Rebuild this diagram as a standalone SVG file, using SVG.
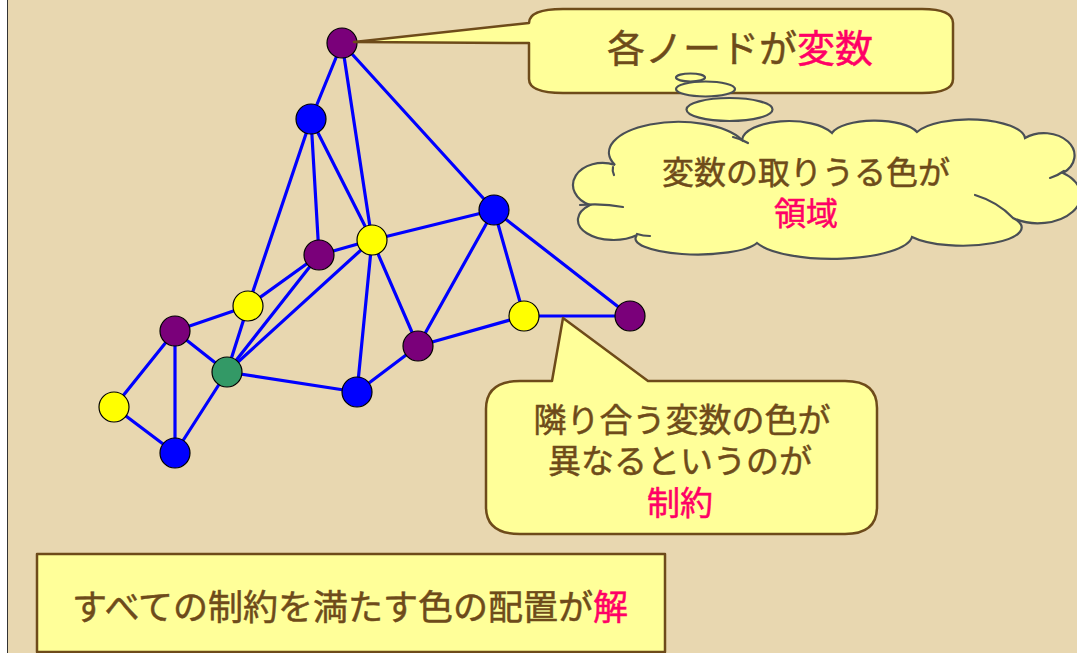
<svg xmlns="http://www.w3.org/2000/svg" width="1077" height="653" viewBox="0 0 1077 653">
<defs>
<style>
.edge{stroke:#0000FF;stroke-width:3.2;stroke-linecap:round}
.node{stroke:#000;stroke-width:1.2}
.purple{fill:#7A007A}
.blue{fill:#0000FF}
.yellow{fill:#FFFF00}
.green{fill:#339966}
.box{fill:#FFFF99;stroke:#6E4B1A;stroke-width:2.5;stroke-linejoin:round}
.thought{fill:#FFFF99;stroke:#4A4F55;stroke-width:2.2}
.crease{fill:none;stroke:#4A4F55;stroke-width:2.2;stroke-linecap:round}
.t{font-family:"Liberation Sans","Noto Sans CJK JP",sans-serif;fill:#6E4B1A;stroke:#6E4B1A;stroke-width:0.5;text-anchor:middle}
.hl{fill:#FF0066;stroke:#FF0066}
</style>
</defs>
<rect x="0" y="0" width="1077" height="653" fill="#FFFFFF"/>
<rect x="7" y="0" width="1070" height="653" fill="#E8D7B0"/>
<line x1="7.5" y1="0" x2="7.5" y2="653" stroke="#333333" stroke-width="1"/>

<g id="connectors">
<line class="edge" x1="342" y1="43" x2="311" y2="119"/>
<line class="edge" x1="342" y1="43" x2="372" y2="240"/>
<line class="edge" x1="342" y1="43" x2="494" y2="210"/>
<line class="edge" x1="311" y1="119" x2="248" y2="306"/>
<line class="edge" x1="311" y1="119" x2="319" y2="255"/>
<line class="edge" x1="311" y1="119" x2="372" y2="240"/>
<line class="edge" x1="319" y1="255" x2="372" y2="240"/>
<line class="edge" x1="319" y1="255" x2="248" y2="306"/>
<line class="edge" x1="319" y1="255" x2="227" y2="372"/>
<line class="edge" x1="372" y1="240" x2="227" y2="372"/>
<line class="edge" x1="372" y1="240" x2="357" y2="392"/>
<line class="edge" x1="372" y1="240" x2="418" y2="346"/>
<line class="edge" x1="372" y1="240" x2="494" y2="210"/>
<line class="edge" x1="248" y1="306" x2="175" y2="331"/>
<line class="edge" x1="248" y1="306" x2="227" y2="372"/>
<line class="edge" x1="175" y1="331" x2="227" y2="372"/>
<line class="edge" x1="175" y1="331" x2="114" y2="407"/>
<line class="edge" x1="175" y1="331" x2="175" y2="453"/>
<line class="edge" x1="114" y1="407" x2="175" y2="453"/>
<line class="edge" x1="227" y1="372" x2="175" y2="453"/>
<line class="edge" x1="227" y1="372" x2="357" y2="392"/>
<line class="edge" x1="357" y1="392" x2="418" y2="346"/>
<line class="edge" x1="418" y1="346" x2="494" y2="210"/>
<line class="edge" x1="418" y1="346" x2="524" y2="316"/>
<line class="edge" x1="494" y1="210" x2="524" y2="316"/>
<line class="edge" x1="494" y1="210" x2="630" y2="316"/>
<line class="edge" x1="524" y1="316" x2="630" y2="316"/>
</g>

<g id="node-a"><circle class="node purple" cx="342" cy="43" r="15"/></g>
<g id="node-b"><circle class="node blue" cx="311" cy="119" r="15"/></g>
<g id="node-c"><circle class="node purple" cx="319" cy="255" r="15"/></g>
<g id="node-d"><circle class="node yellow" cx="372" cy="240" r="15"/></g>
<g id="node-e"><circle class="node yellow" cx="248" cy="306" r="15"/></g>
<g id="node-f"><circle class="node purple" cx="175" cy="331" r="15"/></g>
<g id="node-g"><circle class="node green" cx="227" cy="372" r="15"/></g>
<g id="node-h"><circle class="node yellow" cx="114" cy="407" r="15"/></g>
<g id="node-i"><circle class="node blue" cx="175" cy="453" r="15"/></g>
<g id="node-j"><circle class="node blue" cx="357" cy="392" r="15"/></g>
<g id="node-k"><circle class="node purple" cx="418" cy="346" r="15"/></g>
<g id="node-l"><circle class="node blue" cx="494" cy="210" r="15"/></g>
<g id="node-m"><circle class="node yellow" cx="524" cy="316" r="15"/></g>
<g id="node-n"><circle class="node purple" cx="630" cy="316" r="15"/></g>

<g id="callout-variable">
<path class="box" d="M 529,23 Q 529,9 563,9 L 922,9 Q 953,9 953,23 L 953,79 Q 953,93 922,93 L 563,93 Q 529,93 529,79 L 529,43 L 354,42 Z"/>
<text class="t" x="740" y="62" font-size="38">各ノードが<tspan class="hl">変数</tspan></text>
</g>

<g id="thought-domain">
<ellipse class="thought" cx="690.5" cy="77.5" rx="14.5" ry="4"/>
<ellipse class="thought" cx="705.5" cy="89" rx="29.5" ry="7.5"/>
<ellipse class="thought" cx="729.5" cy="109.5" rx="43" ry="11.5"/>
<path class="thought" d="M 590,205 A 28 21 0 1 1 615,165 A 68 30 0 0 1 742,140 A 47 20 0 0 1 832,133 A 44 16 0 0 1 917,132 A 56 20 0 0 1 1025,138 A 30 22 0 1 1 1063,173 A 40 26 0 1 1 1013,218 A 52 16 0 0 1 912,237 A 80 24 0 0 1 757,243 A 62 16 0 0 1 637,235 A 32 18 0 1 1 590,205 Z"/>
<path class="crease" d="M 580,205 Q 603,203 623,207"/>
<path class="crease" d="M 733,137 Q 741,139 748,143"/>
<path class="crease" d="M 1050,178 Q 1057,176 1064,171"/>
<path class="crease" d="M 975,195 Q 998,202 1013,218"/>
<path class="crease" d="M 650,236 Q 643,236 637,234"/>
<path class="crease" d="M 613,167 Q 612,171 614,175"/>
<text class="t" x="806" y="184" font-size="32">変数の取りうる色が</text>
<text class="t hl" x="806" y="225" font-size="32">領域</text>
</g>

<g id="callout-constraint">
<path class="box" d="M 486,409 Q 486,381 520,381 L 552,381 L 563,318 L 648,381 L 845,381 Q 877,381 877,408 L 877,507 Q 877,534 845,534 L 520,534 Q 486,534 486,507 Z"/>
<text class="t" x="682" y="432" font-size="33">隣り合う変数の色が</text>
<text class="t" x="680" y="473" font-size="33">異なるというのが</text>
<text class="t hl" x="680" y="515" font-size="33">制約</text>
</g>

<g id="box-solution">
<rect class="box" x="37" y="554" width="628" height="98"/>
<text class="t" x="350" y="620" font-size="35">すべての制約を満たす色の配置が<tspan class="hl">解</tspan></text>
</g>
</svg>
